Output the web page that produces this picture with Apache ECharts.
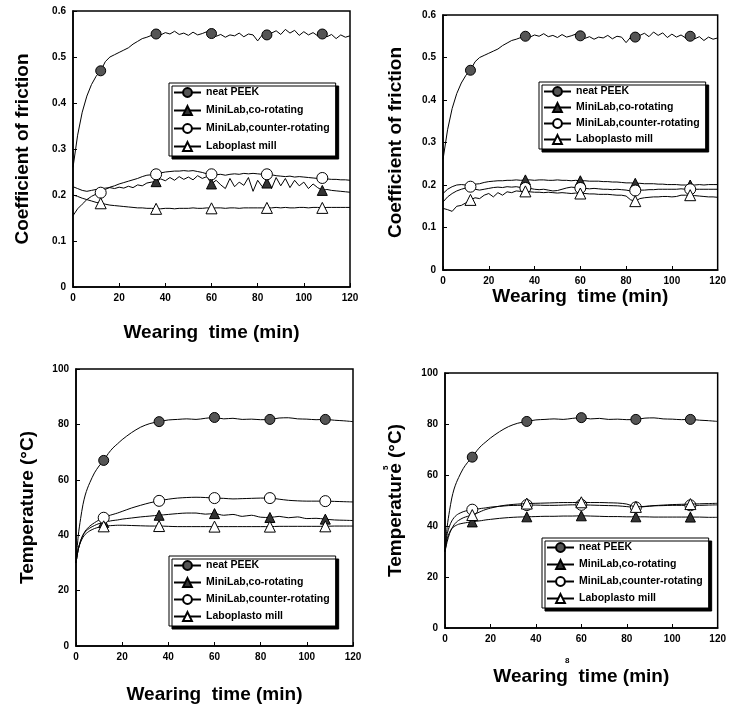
<!DOCTYPE html>
<html>
<head>
<meta charset="utf-8">
<script src="https://cdn.jsdelivr.net/npm/echarts@6/dist/echarts.min.js"></script>
<style>
html,body{margin:0;padding:0;background:#fff;}
#chart{width:729px;height:708px;}
</style>
</head>
<body>
<div id="chart"></div>
<script>
// ---------- data ----------
const markerTimes = [12, 36, 60, 84, 108];
const markerTimesCoFriction = [36, 60, 84, 108];
const xTicks = [0, 20, 40, 60, 80, 100, 120];

// friction time base (min)
const tF = [0,2,4,6,8,10,12,14,16,18,20,22,24,26,28,30,32,34,36,38,40,42,44,46,48,50,52,54,56,58,60,62,64,66,68,70,72,74,76,78,80,82,84,86,88,90,92,94,96,98,100,102,104,106,108,110,112,114,116,118,120];

// neat PEEK coefficient of friction (same in both friction panels)
const peekCOF = [0.26,0.33,0.38,0.415,0.44,0.458,0.47,0.49,0.5,0.505,0.51,0.515,0.52,0.528,0.534,0.54,0.543,0.547,0.55,0.548,0.553,0.55,0.556,0.549,0.552,0.547,0.554,0.548,0.551,0.555,0.551,0.545,0.549,0.543,0.548,0.546,0.552,0.544,0.55,0.548,0.535,0.548,0.548,0.552,0.557,0.549,0.56,0.552,0.558,0.547,0.555,0.548,0.553,0.546,0.55,0.544,0.549,0.54,0.548,0.543,0.546];

// panel a (top-left)
const aCo = [0.218,0.214,0.21,0.208,0.21,0.212,0.213,0.215,0.216,0.214,0.217,0.215,0.219,0.216,0.222,0.22,0.226,0.228,0.229,0.235,0.231,0.238,0.232,0.24,0.234,0.239,0.233,0.242,0.236,0.24,0.224,0.232,0.222,0.214,0.236,0.218,0.228,0.221,0.238,0.208,0.232,0.218,0.226,0.214,0.238,0.22,0.236,0.216,0.232,0.22,0.228,0.214,0.224,0.216,0.21,0.212,0.21,0.209,0.208,0.207,0.206];
const aCounter = [0.155,0.17,0.18,0.19,0.197,0.202,0.205,0.212,0.217,0.22,0.224,0.227,0.23,0.233,0.236,0.24,0.243,0.244,0.245,0.248,0.25,0.251,0.252,0.252,0.253,0.252,0.253,0.251,0.249,0.246,0.245,0.244,0.245,0.243,0.245,0.246,0.245,0.247,0.246,0.247,0.246,0.245,0.245,0.244,0.242,0.241,0.24,0.241,0.239,0.24,0.239,0.238,0.237,0.236,0.237,0.235,0.234,0.234,0.233,0.233,0.232];
const aLabo = [0.2,0.197,0.193,0.19,0.187,0.184,0.182,0.18,0.178,0.177,0.176,0.175,0.174,0.173,0.172,0.172,0.171,0.171,0.17,0.17,0.171,0.171,0.17,0.171,0.171,0.171,0.172,0.171,0.171,0.172,0.171,0.172,0.172,0.171,0.172,0.172,0.171,0.172,0.172,0.172,0.172,0.172,0.172,0.172,0.173,0.172,0.173,0.172,0.172,0.173,0.173,0.172,0.173,0.173,0.172,0.173,0.173,0.173,0.173,0.173,0.173];

// panel b (top-right)
const bCo = [0.18,0.19,0.196,0.2,0.201,0.2,0.2,0.202,0.203,0.206,0.208,0.209,0.21,0.21,0.211,0.211,0.212,0.211,0.212,0.212,0.211,0.212,0.212,0.211,0.211,0.212,0.211,0.211,0.21,0.211,0.21,0.21,0.209,0.209,0.209,0.208,0.208,0.207,0.207,0.206,0.205,0.205,0.204,0.204,0.203,0.203,0.203,0.202,0.202,0.201,0.201,0.201,0.2,0.2,0.2,0.2,0.201,0.2,0.201,0.201,0.201];
const bCounter = [0.16,0.172,0.18,0.186,0.19,0.193,0.196,0.19,0.188,0.19,0.192,0.194,0.195,0.194,0.196,0.195,0.196,0.194,0.193,0.192,0.19,0.189,0.19,0.188,0.186,0.187,0.19,0.193,0.195,0.194,0.193,0.192,0.191,0.192,0.191,0.19,0.19,0.189,0.19,0.189,0.188,0.186,0.187,0.188,0.188,0.189,0.189,0.19,0.19,0.19,0.19,0.19,0.191,0.19,0.19,0.19,0.19,0.19,0.19,0.19,0.19];
const bLabo = [0.145,0.142,0.138,0.15,0.152,0.158,0.165,0.17,0.168,0.176,0.18,0.172,0.182,0.176,0.184,0.182,0.186,0.185,0.185,0.184,0.183,0.183,0.182,0.183,0.182,0.181,0.182,0.181,0.18,0.181,0.18,0.18,0.179,0.179,0.178,0.178,0.178,0.177,0.176,0.176,0.174,0.165,0.162,0.168,0.17,0.171,0.172,0.172,0.173,0.173,0.172,0.173,0.176,0.176,0.176,0.175,0.174,0.173,0.172,0.172,0.171];

// temperature time base (min)
const tT = [0,1,2,3,4,5,6,8,10,12,14,16,18,20,24,28,32,36,40,44,48,52,56,60,64,68,72,76,80,84,88,92,96,100,104,108,112,116,120];

// neat PEEK temperature (same in both temperature panels)
const peekTemp = [30,40,46,51,54.5,57,59,62.5,65,67,69.5,71.5,73,74.5,77,79,80.3,81,81.6,81.8,82,81.8,82.2,82.5,82,82.2,81.8,81.9,81.7,81.8,82.3,82.4,82,81.9,81.7,81.8,81.5,81.3,81];

// panel c (bottom-left)
const cCo = [30,35,38,40,41.2,42,42.6,43.5,44.2,44.6,45,45.3,45.5,45.8,46.2,46.6,46.9,47.2,47.5,47.8,48,48,47.6,47.8,47.2,47.5,46.8,47.2,46.5,46.4,46.8,46.3,46.6,46,46.1,45.8,45.5,45.4,45.3];
const cCounter = [30,35,38,40,41.5,42.5,43.3,44.5,45.5,46.3,47,47.5,48,48.6,49.8,50.8,51.7,52.4,53,53.4,53.6,53.7,53.6,53.4,53.3,53.1,53.2,53.3,53.4,53.4,53,52.6,52.4,52.3,52.3,52.3,52.2,52.1,52];
const cLabo = [30,35,37.5,39.2,40.3,41,41.6,42.4,42.9,43.2,43.4,43.5,43.6,43.6,43.5,43.4,43.3,43.3,43.2,43.1,43.1,43.1,43.1,43.1,43.1,43.1,43.1,43.1,43.1,43.1,43.2,43.2,43.2,43.2,43.2,43.2,43.3,43.3,43.3];

// panel d (bottom-right)
const dCo = [30,35,37.5,39,39.8,40.3,40.7,41.1,41.4,41.6,41.9,42.1,42.4,42.6,43,43.3,43.5,43.6,43.7,43.8,43.8,43.9,43.9,44,43.9,43.8,43.7,43.7,43.6,43.6,43.6,43.5,43.5,43.5,43.5,43.5,43.5,43.4,43.4];
const dCounter = [30,37,40,42,43.3,44.2,44.8,45.6,46.1,46.4,46.6,46.9,47.1,47.4,47.7,48,48.1,48.2,48.2,48.1,48.1,48.2,48.3,48.3,48.2,48.1,48,47.9,47.6,47.3,47.6,47.9,48,48.1,48.1,48.1,48.1,48.2,48.3];
const dLabo = [30,34,37,39,40.5,41.5,42.2,43.2,43.8,44.3,45,45.8,46.5,47,47.8,48.3,48.6,48.8,48.9,49,49.1,49.2,49.2,49.3,49.2,49.2,49.1,49,48.6,47.5,47.7,48,48.2,48.4,48.5,48.6,48.7,48.8,48.9];

const names = ['neat PEEK', 'MiniLab,co-rotating', 'MiniLab,counter-rotating'];
const laboNameA = 'Laboplast mill';
const laboNameB = 'Laboplasto mill';
const xTitle = 'Wearing  time (min)';
const yTitleF = 'Coefficient of friction';
const yTitleT = 'Temperature (\u00B0C)';

// ---------- layout ----------
const grids = [
  {left: 73, top: 11, width: 277, height: 276},
  {left: 443, top: 15, width: 276, height: 255},
  {left: 76, top: 369, width: 277, height: 277},
  {left: 445, top: 373, width: 277, height: 255}
];
const xGaps = [36, 13, 39, 39];
const yGaps = [41, 38, 39, 40];
const legendPos = [
  {left: 169, top: 83, gap: 7},
  {left: 539, top: 82, gap: 5},
  {left: 169, top: 556, gap: 6},
  {left: 542, top: 538, gap: 6}
];

const FONT = 'Liberation Sans';

const styles = [
  {symbol: 'circle', size: 10, fill: '#555'},
  {symbol: 'triangle', size: 10, fill: '#333'},
  {symbol: 'circle', size: 11, fill: '#fff'},
  {symbol: 'triangle', size: 11, fill: '#fff'}
];

function build(t, v, marks) {
  return t.map((x, i) => marks.indexOf(x) >= 0
    ? {value: [x, v[i]]}
    : {value: [x, v[i]], symbol: 'none'});
}

const panels = [
  {t: tF, sets: [peekCOF, aCo, aCounter, aLabo], labo: laboNameA, ymax: 0.6, yint: 0.1, yTitle: yTitleF, smooth: false, coMarks: markerTimesCoFriction},
  {t: tF, sets: [peekCOF, bCo, bCounter, bLabo], labo: laboNameB, ymax: 0.6, yint: 0.1, yTitle: yTitleF, smooth: false, coMarks: markerTimesCoFriction},
  {t: tT, sets: [peekTemp, cCo, cCounter, cLabo], labo: laboNameB, ymax: 100, yint: 20, yTitle: yTitleT, smooth: 0.3, coMarks: markerTimes},
  {t: tT, sets: [peekTemp, dCo, dCounter, dLabo], labo: laboNameB, ymax: 100, yint: 20, yTitle: yTitleT, smooth: 0.3, coMarks: markerTimes}
];

const option = {
  backgroundColor: '#fff',
  animation: false,
  textStyle: {fontFamily: FONT, color: '#000'},
  grid: [], xAxis: [], yAxis: [], series: [], legend: [],
  graphic: [
    {type: 'text', x: 382, y: 470, rotation: Math.PI / 2, z: 100,
     style: {text: '5', font: 'bold 8px ' + FONT, fill: '#000'}},
    {type: 'text', left: 565, top: 657,
     style: {text: '8', font: 'bold 8px ' + FONT, fill: '#000'}}
  ]
};

panels.forEach((p, k) => {
  option.grid.push(Object.assign({show: true, borderColor: '#000', borderWidth: 1.5, backgroundColor: 'transparent'}, grids[k]));
  option.xAxis.push({
    type: 'value', gridIndex: k, min: 0, max: 120, interval: 20,
    name: xTitle, nameLocation: 'middle', nameGap: xGaps[k],
    nameTextStyle: {fontSize: 19, fontWeight: 'bold', fontFamily: FONT, color: '#000'},
    axisLine: {lineStyle: {color: '#000', width: 1.5}},
    axisTick: {inside: true, length: 4, lineStyle: {color: '#000'}},
    axisLabel: {fontSize: 10, fontWeight: 'bold', color: '#000', margin: 6, fontFamily: FONT},
    splitLine: {show: false}
  });
  option.yAxis.push({
    type: 'value', gridIndex: k, min: 0, max: p.ymax, interval: p.yint,
    name: p.yTitle, nameLocation: 'middle', nameGap: yGaps[k],
    nameTextStyle: {fontSize: 19, fontWeight: 'bold', fontFamily: FONT, color: '#000'},
    axisLine: {show: true, lineStyle: {color: '#000', width: 1.5}},
    axisTick: {show: true, inside: true, length: 4, lineStyle: {color: '#000'}},
    axisLabel: {fontSize: 10, fontWeight: 'bold', color: '#000', margin: 7, fontFamily: FONT},
    splitLine: {show: false}
  });
  const sNames = names.concat([p.labo]);
  p.sets.forEach((v, j) => {
    option.series.push({
      type: 'line', name: sNames[j], xAxisIndex: k, yAxisIndex: k,
      data: build(p.t, v, j === 1 ? p.coMarks : markerTimes), smooth: p.smooth,
      symbol: styles[j].symbol, symbolSize: styles[j].size, showAllSymbol: true,
      lineStyle: {color: '#000', width: 1},
      itemStyle: {color: styles[j].fill, borderColor: '#000', borderWidth: 1},
      z: 3 + j
    });
  });
  option.legend.push({
    orient: 'vertical', left: legendPos[k].left, top: legendPos[k].top,
    data: sNames, itemWidth: 27, itemHeight: 11, itemGap: legendPos[k].gap,
    padding: [4, 6, 4, 4], selectedMode: false,
    backgroundColor: '#fff', borderColor: '#000', borderWidth: 1,
    shadowColor: '#000', shadowBlur: 0, shadowOffsetX: 3, shadowOffsetY: 3,
    textStyle: {fontSize: 10.5, fontWeight: 'bold', color: '#000', fontFamily: FONT}
  });
});

const chart = echarts.init(document.getElementById('chart'));
chart.setOption(option);
</script>
</body>
</html>
